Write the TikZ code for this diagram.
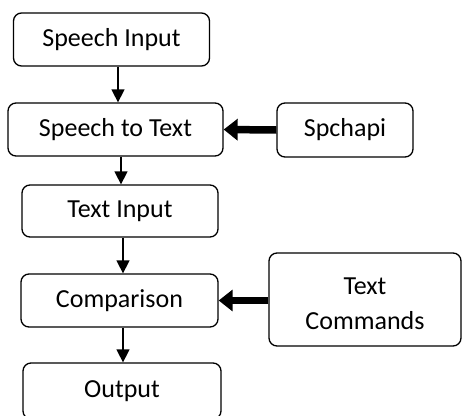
\documentclass[tikz,border=0pt]{standalone}
\usepackage{fontspec}
\setmainfont{Carlito}
\usetikzlibrary{arrows.meta}
\begin{document}
\begin{tikzpicture}[x=1pt,y=-1pt,
  box/.style={draw, line width=1.3pt, rounded corners=8pt, inner sep=0pt, font=\fontsize{26}{32}\selectfont, align=center},
  thin/.style={line width=1.5pt, -{Triangle[width=13pt,length=13pt]}},
  thick/.style={line width=7.5pt, -{Triangle[width=21pt,length=14pt]}}]
\clip (0,0) rectangle (462,415);
\useasboundingbox (0,0) rectangle (462,415);
\node[box, minimum width=196pt, minimum height=53pt] (sin) at (111.5,39.5) {Speech Input};
\node[box, minimum width=215pt, minimum height=53pt] (stt) at (115.5,129.5) {Speech to Text};
\node[box, minimum width=196pt, minimum height=52pt] (tin) at (120,211) {Text Input};
\node[box, minimum width=197pt, minimum height=53pt] (cmp) at (119.5,300.5) {Comparison};
\node[box, minimum width=198pt, minimum height=56pt] (out) at (122,391) {Output};
\node[box, minimum width=136pt, minimum height=54pt] (api) at (345,130) {Spchapi};
\node[box, minimum width=192pt, minimum height=93pt] (tcm) at (365,299.5) {\begin{tabular}{@{}c@{}}\rule{0pt}{35pt}Text\\[3pt]Commands\end{tabular}};
\draw[thin] (sin.south -| 118,0) -- (stt.north -| 118,0);
\draw[thin] (stt.south -| 121,0) -- (tin.north -| 121,0);
\draw[thin] (tin.south -| 123,0) -- (cmp.north -| 123,0);
\draw[thin] (cmp.south -| 123,0) -- (out.north -| 123,0);
\draw[thick] (api.west) -- (stt.east);
\draw[thick] (tcm.west |- cmp.east) -- (cmp.east);
\end{tikzpicture}
\end{document}
